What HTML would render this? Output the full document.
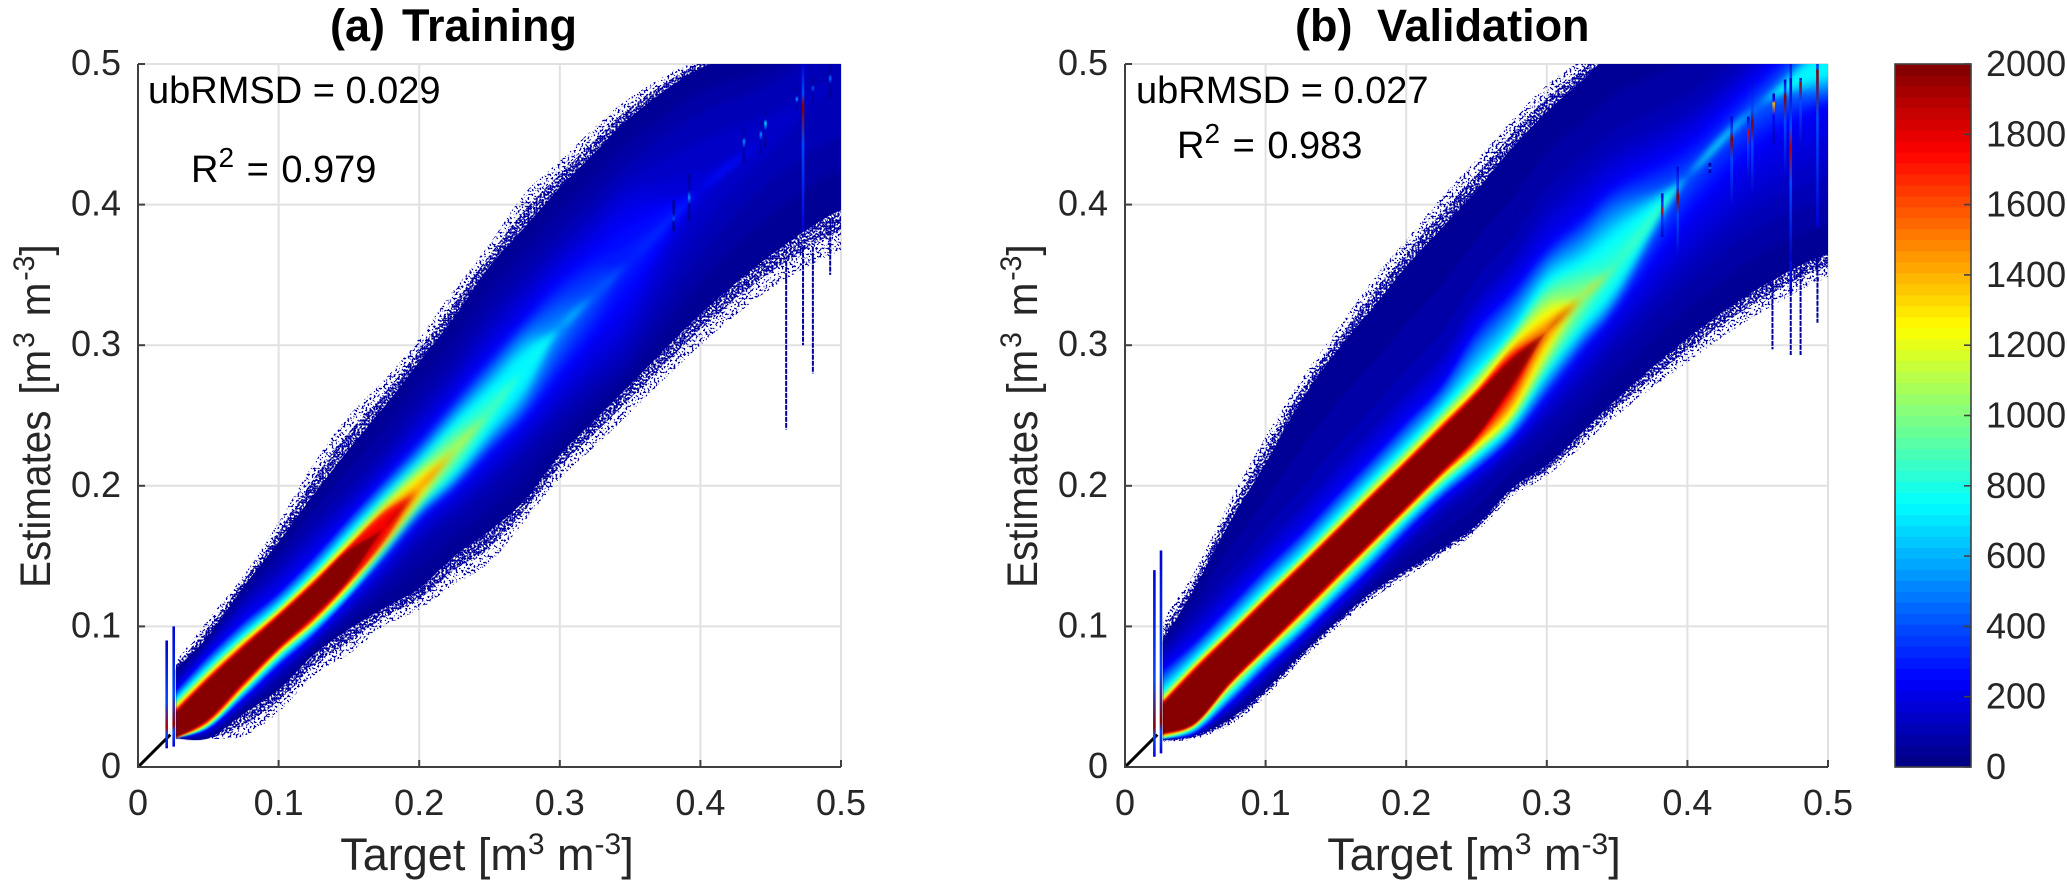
<!DOCTYPE html>
<html lang="en">
<head>
<meta charset="utf-8">
<title>Training and validation density scatter</title>
<style>
html,body{margin:0;padding:0;background:#fff;}
svg{display:block;font-family:"Liberation Sans",sans-serif;}
</style>
</head>
<body>
<svg id="figure" xmlns="http://www.w3.org/2000/svg" width="2067" height="887" viewBox="0 0 2067 887">
  <defs>
    <filter id="speckle-sparse" x="0" y="0" width="100%" height="100%" color-interpolation-filters="sRGB">
      <feTurbulence type="fractalNoise" baseFrequency="0.5" numOctaves="1" seed="7" result="noise"/>
      <feColorMatrix in="noise" type="matrix" values="0 0 0 0 0  0 0 0 0 0  0 0 0 0 0  14 0 0 0 -7.6" result="mask"/>
      <feComposite in="SourceGraphic" in2="mask" operator="in"/>
    </filter>
    <filter id="speckle-dense" x="0" y="0" width="100%" height="100%" color-interpolation-filters="sRGB">
      <feTurbulence type="fractalNoise" baseFrequency="0.5" numOctaves="1" seed="11" result="noise"/>
      <feColorMatrix in="noise" type="matrix" values="0 0 0 0 0  0 0 0 0 0  0 0 0 0 0  14 0 0 0 -6.2" result="mask"/>
      <feComposite in="SourceGraphic" in2="mask" operator="in"/>
    </filter>
    <filter id="soften" x="-5%" y="-5%" width="110%" height="110%" color-interpolation-filters="sRGB">
      <feGaussianBlur stdDeviation="0.9"/>
    </filter>
    <filter id="soften-wide" x="-5%" y="-5%" width="110%" height="110%" color-interpolation-filters="sRGB">
      <feGaussianBlur stdDeviation="3.5"/>
    </filter>
    <clipPath id="clip-train"><rect x="138" y="64" width="703" height="703"/></clipPath>
    <clipPath id="clip-valid"><rect x="1125" y="64" width="703" height="703"/></clipPath>
  </defs>

  <g id="panel-train"></g>
  <g id="panel-valid"></g>
  <g id="colorbar"></g>

  <text y="41" font-size="45" font-weight="bold" fill="#000"><tspan x="330">(a)</tspan><tspan x="402">Training</tspan></text>
  <text y="41" font-size="45" font-weight="bold" fill="#000"><tspan x="1295">(b)</tspan><tspan x="1377">Validation</tspan></text>

  <text x="148" y="103" font-size="38" fill="#000">ubRMSD = 0.029</text>
  <text x="191" y="182" font-size="38" fill="#000" word-spacing="2">R<tspan dy="-15" font-size="28">2</tspan><tspan dy="15"> = 0.979</tspan></text>
  <text x="1136" y="103" font-size="38" fill="#000">ubRMSD = 0.027</text>
  <text x="1177" y="158" font-size="38" fill="#000" word-spacing="2">R<tspan dy="-15" font-size="28">2</tspan><tspan dy="15"> = 0.983</tspan></text>

  <text x="487" y="870" text-anchor="middle" font-size="45" fill="#262626">Target [m<tspan dy="-16" font-size="30">3</tspan><tspan dy="16"> m</tspan><tspan dy="-16" font-size="30">-3</tspan><tspan dy="16">]</tspan></text>
  <text x="1474" y="870" text-anchor="middle" font-size="45" fill="#262626">Target [m<tspan dy="-16" font-size="30">3</tspan><tspan dy="16"> m</tspan><tspan dy="-16" font-size="30">-3</tspan><tspan dy="16">]</tspan></text>
  <text transform="translate(50,588) rotate(-90) scale(0.94,1)" font-size="43" fill="#262626" word-spacing="5">Estimates [m<tspan dy="-16" dx="2" font-size="30">3</tspan><tspan dy="16"> m</tspan><tspan dy="-16" dx="2" font-size="30">-3</tspan><tspan dy="16">]</tspan></text>
  <text transform="translate(1037,588) rotate(-90) scale(0.94,1)" font-size="43" fill="#262626" word-spacing="5">Estimates [m<tspan dy="-16" dx="2" font-size="30">3</tspan><tspan dy="16"> m</tspan><tspan dy="-16" dx="2" font-size="30">-3</tspan><tspan dy="16">]</tspan></text>
</svg>

<script>
// ---- axis data ----
const axisTicks = [0, 0.1, 0.2, 0.3, 0.4, 0.5];
const axisTickLabels = ["0", "0.1", "0.2", "0.3", "0.4", "0.5"];
const colorbarTicks = [0, 200, 400, 600, 800, 1000, 1200, 1400, 1600, 1800, 2000];
const colorbarMax = 2000;
const colorLevelCount = 64;
const oneToOneEnd = 0.023;

// ---- density contours: count levels and the target values they are read at ----
const contourLevels = [40, 120, 250, 750, 1250, 1750, 2000];
const targetStations = [0.027, 0.05, 0.075, 0.1, 0.125, 0.15, 0.175, 0.2, 0.225, 0.25, 0.275, 0.3, 0.325, 0.35, 0.4, 0.45, 0.5];

// ---- (a) Training ----
const trainRidge = [0.0296, 0.0477, 0.0725, 0.096, 0.119, 0.144, 0.17, 0.198, 0.225, 0.252, 0.283, 0.312, 0.336, 0.36, 0.41, 0.45, 0.49];
const trainPeak = [2000, 2000, 2000, 2000, 2000, 2000, 1800, 1450, 1120, 900, 760, 560, 430, 330, 190, 160, 140];
const trainSpeckleUpper = [0.075, 0.105, 0.136, 0.174, 0.216, 0.25, 0.275, 0.305, 0.34, 0.372, 0.408, 0.431, 0.455, 0.476, 0.505, 0.52, 0.53];
const trainSpeckleLower = [0.02, 0.02, 0.022, 0.039, 0.065, 0.08, 0.1, 0.112, 0.13, 0.145, 0.175, 0.205, 0.228, 0.252, 0.3, 0.34, 0.367];
const trainEdgeUpper = [0.07, 0.093, 0.128, 0.16, 0.194, 0.226, 0.256, 0.288, 0.32, 0.356, 0.384, 0.412, 0.437, 0.462, 0.497, 0.51, 0.52];
const trainEdgeLower = [0.0205, 0.0205, 0.038, 0.055, 0.08, 0.098, 0.113, 0.127, 0.15, 0.168, 0.19, 0.222, 0.247, 0.272, 0.322, 0.364, 0.396];
const train120Upper = [0.062, 0.088, 0.118, 0.1425, 0.17, 0.195, 0.222, 0.255, 0.285, 0.32, 0.348, 0.375, 0.4, 0.425, 0.46, 0.4815, 0.52];
const train120Lower = [0.0205, 0.024, 0.043, 0.0642, 0.087, 0.109, 0.133, 0.16, 0.18, 0.2, 0.225, 0.25, 0.272, 0.295, 0.37, 0.425, 0.457];
const train250Upper = [0.055, 0.08, 0.104, 0.1247, 0.15, 0.178, 0.205, 0.232, 0.262, 0.292, 0.32, 0.348, 0.369, 0.39];
const train250Lower = [0.0205, 0.027, 0.048, 0.0714, 0.093, 0.119, 0.147, 0.176, 0.197, 0.222, 0.246, 0.276, 0.305, 0.335];
const train750Upper = [0.048, 0.071, 0.094, 0.115, 0.139, 0.166, 0.192, 0.217, 0.244, 0.268, 0.293];
const train750Lower = [0.0205, 0.029, 0.053, 0.0773, 0.099, 0.124, 0.153, 0.184, 0.208, 0.24, 0.272];
const train1250Upper = [0.043, 0.066, 0.089, 0.1105, 0.134, 0.159, 0.184, 0.206];
const train1250Lower = [0.0205, 0.031, 0.056, 0.0816, 0.103, 0.129, 0.158, 0.191];
const train1750Upper = [0.04, 0.063, 0.086, 0.108, 0.131, 0.156, 0.18];
const train1750Lower = [0.021, 0.033, 0.059, 0.084, 0.106, 0.132, 0.162];
const train2000Upper = [0.038, 0.061, 0.084, 0.106, 0.129, 0.153];
const train2000Lower = [0.021, 0.035, 0.061, 0.086, 0.109, 0.135];
const trainStreakTarget = [0.0204, 0.0254, 0.381, 0.392, 0.431, 0.443, 0.4463, 0.4686, 0.473, 0.48, 0.4923];
const trainStreakLow = [0.0133, 0.0145, 0.381, 0.3886, 0.429, 0.436, 0.441, 0.4668, 0.381, 0.472, 0.476];
const trainStreakHigh = [0.09, 0.1, 0.403, 0.4217, 0.455, 0.46, 0.4668, 0.4834, 0.5, 0.49, 0.5];
const trainStreakCentre = [0.028, 0.03, 0.39, 0.405, 0.445, 0.45, 0.458, 0.475, 0.47, 0.483, 0.49];
const trainStreakPeak = [1900, 2000, 400, 500, 500, 500, 650, 500, 2000, 400, 450];
const trainTailTarget = [0.461, 0.473, 0.48, 0.4923];
const trainTailLow = [0.24, 0.3, 0.28, 0.35];
const trainTailHigh = [0.36, 0.37, 0.37, 0.39];
const trainSoftFrom = 0.17;

// ---- (b) Validation ----
const validRidge = [0.034, 0.05, 0.077, 0.1016, 0.126, 0.151, 0.176, 0.2, 0.225, 0.25, 0.283, 0.31, 0.334, 0.358, 0.42, 0.47, 0.5];
const validPeak = [2000, 2000, 2000, 2000, 2000, 2000, 2000, 2000, 2000, 2000, 2000, 1550, 1080, 870, 430, 450, 900];
const validSpeckleUpper = [0.105, 0.14, 0.19, 0.235, 0.275, 0.31, 0.345, 0.375, 0.405, 0.432, 0.46, 0.485, 0.503, 0.52, 0.53, 0.54, 0.55];
const validSpeckleLower = [0.018, 0.02, 0.03, 0.05, 0.075, 0.098, 0.119, 0.135, 0.15, 0.167, 0.192, 0.207, 0.228, 0.25, 0.288, 0.322, 0.348];
const validEdgeUpper = [0.09, 0.128, 0.175, 0.216, 0.26, 0.295, 0.325, 0.356, 0.383, 0.41, 0.44, 0.466, 0.488, 0.51, 0.53, 0.54, 0.55];
const validEdgeLower = [0.019, 0.0225, 0.0345, 0.055, 0.08, 0.103, 0.124, 0.14, 0.155, 0.172, 0.198, 0.215, 0.238, 0.262, 0.305, 0.34, 0.365];
const valid120Upper = [0.082, 0.107, 0.135, 0.1615, 0.188, 0.217, 0.243, 0.27, 0.297, 0.337, 0.365, 0.403, 0.425, 0.445, 0.47, 0.51, 0.54];
const valid120Lower = [0.02, 0.0225, 0.04, 0.0619, 0.085, 0.108, 0.132, 0.157, 0.18, 0.2, 0.222, 0.247, 0.272, 0.3, 0.35, 0.39, 0.41];
const valid250Upper = [0.07, 0.09, 0.116, 0.1425, 0.167, 0.194, 0.22, 0.2468, 0.273, 0.3133, 0.34, 0.37, 0.392, 0.415, 0.4435, 0.49, 0.53];
const valid250Lower = [0.02, 0.024, 0.045, 0.069, 0.092, 0.116, 0.14, 0.166, 0.19, 0.21, 0.232, 0.263, 0.295, 0.325, 0.389, 0.44, 0.47];
const valid750Upper = [0.054, 0.0773, 0.102, 0.127, 0.151, 0.177, 0.203, 0.228, 0.254, 0.282, 0.31, 0.345, 0.36, 0.38];
const valid750Lower = [0.02, 0.0275, 0.052, 0.0773, 0.1, 0.125, 0.15, 0.1757, 0.199, 0.22, 0.243, 0.28, 0.312, 0.342];
const valid1250Upper = [0.048, 0.0725, 0.0965, 0.1212, 0.1455, 0.17, 0.195, 0.2195, 0.245, 0.27, 0.3, 0.322];
const valid1250Lower = [0.022, 0.03, 0.0585, 0.0827, 0.107, 0.132, 0.157, 0.1816, 0.206, 0.2275, 0.252, 0.297];
const valid1750Upper = [0.046, 0.07, 0.0945, 0.119, 0.143, 0.1677, 0.1925, 0.217, 0.2414, 0.266, 0.292];
const valid1750Lower = [0.0235, 0.031, 0.0595, 0.0845, 0.1092, 0.1343, 0.159, 0.184, 0.2087, 0.2336, 0.268];
const valid2000Upper = [0.044, 0.0676, 0.092, 0.1164, 0.1407, 0.1652, 0.19, 0.2143, 0.2389, 0.2635, 0.289];
const valid2000Lower = [0.024, 0.032, 0.0619, 0.0868, 0.1117, 0.1368, 0.1615, 0.1863, 0.2112, 0.2361, 0.272];
const validStreakTarget = [0.0209, 0.0256, 0.3821, 0.3931, 0.416, 0.4315, 0.4433, 0.4462, 0.4614, 0.4695, 0.4735, 0.4735, 0.4805, 0.4925];
const validStreakLow = [0.0073, 0.0097, 0.377, 0.363, 0.4225, 0.3985, 0.415, 0.408, 0.4436, 0.42, 0.337, 0.36, 0.44, 0.384];
const validStreakHigh = [0.14, 0.154, 0.408, 0.427, 0.4296, 0.4626, 0.4626, 0.4886, 0.479, 0.489, 0.503, 0.49, 0.49, 0.503];
const validStreakCentre = [0.028, 0.032, 0.396, 0.4057, 0.426, 0.447, 0.452, 0.458, 0.472, 0.477, 0.485, 0.44, 0.487, 0.495];
const validStreakPeak = [2000, 2000, 1800, 2000, 550, 2000, 1800, 2000, 1400, 2000, 2000, 1900, 1900, 2000];
const validTailTarget = [0.4605, 0.4735, 0.4805, 0.4925];
const validTailLow = [0.297, 0.293, 0.293, 0.316];
const validTailHigh = [0.35, 0.36, 0.36, 0.37];
const validSoftFrom = 0.285;

// ---- drawing ----
const NS = "http://www.w3.org/2000/svg";
const AXIS_SPAN = 703;
const AXIS_TOP = 64;
const AXIS_BOTTOM = 767;
const SOFT_FEATHER = 0.025;

function make(tag, attrs, parent) {
  const el = document.createElementNS(NS, tag);
  for (const k in attrs) el.setAttribute(k, attrs[k]);
  parent.appendChild(el);
  return el;
}

function jet(value) {
  const idx = Math.max(0, Math.min(colorLevelCount - 1, Math.floor(value / colorbarMax * colorLevelCount)));
  const f = (idx + 0.5) / colorLevelCount * 4;
  const ch = c => Math.round(255 * Math.max(0, Math.min(1, Math.min(f - c + 1.5, -f + c + 1.5))));
  return "rgb(" + ch(3) + "," + ch(2) + "," + ch(1) + ")";
}

function sy(v) { return AXIS_BOTTOM - v / 0.5 * AXIS_SPAN; }

function smoothRun(pts) {
  let d = "";
  for (let i = 0; i < pts.length - 1; i++) {
    const p0 = pts[Math.max(0, i - 1)], p1 = pts[i], p2 = pts[i + 1], p3 = pts[Math.min(pts.length - 1, i + 2)];
    const c1x = p1[0] + (p2[0] - p0[0]) / 6, c1y = p1[1] + (p2[1] - p0[1]) / 6;
    const c2x = p2[0] - (p3[0] - p1[0]) / 6, c2y = p2[1] - (p3[1] - p1[1]) / 6;
    d += "C" + c1x.toFixed(1) + " " + c1y.toFixed(1) + " " + c2x.toFixed(1) + " " + c2y.toFixed(1) + " " + p2[0].toFixed(1) + " " + p2[1].toFixed(1);
  }
  return d;
}

function bandPath(sx, upper, lower) {
  const top = targetStations.map((x, i) => [sx(x), sy(upper[i])]);
  top.push([sx(0.53), sy(upper[upper.length - 1])]);
  const bottom = targetStations.map((x, i) => [sx(x), sy(lower[i])]);
  bottom.push([sx(0.53), sy(lower[lower.length - 1])]);
  bottom.reverse();
  return "M" + top[0][0].toFixed(1) + " " + top[0][1].toFixed(1) + smoothRun(top) +
    "L" + bottom[0][0].toFixed(1) + " " + bottom[0][1].toFixed(1) + smoothRun(bottom) + "Z";
}

function contourAt(value, side, ridge, peak) {
  let k = contourLevels.length - 2;
  while (k > 0 && value < contourLevels[k]) k--;
  const lo = contourLevels[k];
  const hi = contourLevels[k + 1];
  return targetStations.map((_, i) => {
    const a = side[k][i];
    const b = side[k + 1][i];
    const base = a === undefined ? ridge[i] : a;
    if (b !== undefined) return base + (b - base) * (value - lo) / (hi - lo);
    if (value >= peak[i] || peak[i] <= lo) return ridge[i];
    return base + (ridge[i] - base) * (value - lo) / (peak[i] - lo);
  });
}

function drawBands(parent, key, sx, d) {
  for (let i = 0; i < colorLevelCount; i++) {
    const value = (i + 0.5) * colorbarMax / colorLevelCount;
    if (value <= contourLevels[0]) continue;
    const up = contourAt(value, d.upper, d.ridge, d.peak);
    const lowArr = contourAt(value, d.lower, d.ridge, d.peak);
    const band = make("path", { d: bandPath(sx, up, lowArr), fill: jet(value) }, parent);
    
    
  }
}

function drawCore(plot, key, sx, d) {
  const sharpEnd = sx(d.softFrom + SOFT_FEATHER);
  const clip = make("clipPath", { id: key + "-sharp-clip" }, plot);
  make("rect", { x: sx(0), y: AXIS_TOP - 20, width: sharpEnd - sx(0), height: AXIS_SPAN + 40 }, clip);
  const sharpHolder = make("g", { "clip-path": "url(#" + key + "-sharp-clip)" }, plot);
  
  
  const sharp = make("g", { filter: "url(#soften)" }, sharpHolder);
  drawBands(sharp, key, sx, d);

  const fadeId = key + "-soft-fade";
  const fade = make("linearGradient", { id: fadeId, gradientUnits: "userSpaceOnUse", x1: sx(d.softFrom - SOFT_FEATHER), x2: sharpEnd, y1: 0, y2: 0 }, plot);
  make("stop", { offset: 0, "stop-color": "#000" }, fade);
  make("stop", { offset: 1, "stop-color": "#fff" }, fade);
  const mask = make("mask", { id: key + "-soft-mask", maskUnits: "userSpaceOnUse", x: sx(0), y: AXIS_TOP - 20, width: AXIS_SPAN + 60, height: AXIS_SPAN + 40 }, plot);
  make("rect", { x: sx(0), y: AXIS_TOP - 20, width: AXIS_SPAN + 60, height: AXIS_SPAN + 40, fill: "url(#" + fadeId + ")" }, mask);
  const softHolder = make("g", { mask: "url(#" + key + "-soft-mask)" }, plot);
  
  
  const soft = make("g", { filter: "url(#soften-wide)" }, softHolder);
  drawBands(soft, key, sx, d);
}

function drawPanel(root, key, x0, clipId, d) {
  const sx = v => x0 + v / 0.5 * AXIS_SPAN;

  const grid = make("g", {}, root);
  
  
  axisTicks.forEach(t => {
    if (t === 0) return;
    const vl = make("line", { x1: sx(t), x2: sx(t), y1: AXIS_TOP, y2: AXIS_BOTTOM, stroke: "#e1e1e1", "stroke-width": 2 }, grid);
    
    
    const hl = make("line", { x1: x0, x2: x0 + AXIS_SPAN, y1: sy(t), y2: sy(t), stroke: "#e1e1e1", "stroke-width": 2 }, grid);
    
    
  });

  const plot = make("g", { "clip-path": "url(#" + clipId + ")" }, root);
  
  

  const refLine = make("line", { x1: sx(0), y1: sy(0), x2: sx(oneToOneEnd), y2: sy(oneToOneEnd), stroke: "#000", "stroke-width": 3 }, plot);
  
  

  const fringeOuter = make("path", { d: bandPath(sx, d.speckleUpper, d.speckleLower), fill: "#00009a", filter: "url(#speckle-sparse)" }, plot);
  
  
  const midUpper = d.speckleUpper.map((v, i) => (v + d.upper[0][i]) / 2);
  const midLower = d.speckleLower.map((v, i) => (v + d.lower[0][i]) / 2);
  const fringeInner = make("path", { d: bandPath(sx, midUpper, midLower), fill: "#00009a", filter: "url(#speckle-dense)" }, plot);
  
  

  d.tailTarget.forEach((x, i) => {
    const tail = make("line", { x1: sx(x), x2: sx(x), y1: sy(d.tailHigh[i]), y2: sy(d.tailLow[i]), stroke: "#00009a", "stroke-width": 2, "stroke-dasharray": "5 1" }, plot);
    
    
  });

  const edge = make("path", { d: bandPath(sx, d.upper[0], d.lower[0]), fill: jet(contourLevels[0]) }, plot);
  
  

  drawCore(plot, key, sx, d);

  d.streakTarget.forEach((x, i) => {
    const id = key + "-streak-" + i;
    const lo = d.streakLow[i], hi = d.streakHigh[i], c = d.streakCentre[i], p = d.streakPeak[i];
    const gradient = make("linearGradient", { id: id, gradientUnits: "userSpaceOnUse", x1: 0, x2: 0, y1: sy(hi), y2: sy(lo) }, plot);
    const stopsAt = [hi, c + (hi - c) * 0.3, c, c - (c - lo) * 0.3, lo];
    const strength = [0.08, 0.2, 1, 0.2, 0.08];
    stopsAt.forEach((v, j) => {
      make("stop", { offset: ((hi - v) / (hi - lo)).toFixed(4), "stop-color": jet(p * strength[j]) }, gradient);
    });
    const streak = make("rect", { x: sx(x) - 1.3, y: sy(hi), width: 2.6, height: sy(lo) - sy(hi), fill: "url(#" + id + ")" }, plot);
    
    
  });

  const axes = make("g", {}, root);
  
  
  const yAxis = make("line", { x1: x0, x2: x0, y1: AXIS_TOP, y2: AXIS_BOTTOM + 1, stroke: "#404040", "stroke-width": 2 }, axes);
  
  
  const xAxis = make("line", { x1: x0, x2: x0 + AXIS_SPAN, y1: AXIS_BOTTOM, y2: AXIS_BOTTOM, stroke: "#404040", "stroke-width": 2 }, axes);
  
  

  axisTicks.forEach((t, i) => {
    const xt = make("line", { x1: sx(t), x2: sx(t), y1: AXIS_BOTTOM, y2: AXIS_BOTTOM - 7, stroke: "#404040", "stroke-width": 2 }, axes);
    
    
    const yt = make("line", { x1: x0, x2: x0 + 7, y1: sy(t), y2: sy(t), stroke: "#404040", "stroke-width": 2 }, axes);
    
    

    const xLabel = make("text", { x: sx(t), y: 815, "text-anchor": "middle", "font-size": 36, fill: "#262626" }, axes);
    xLabel.textContent = axisTickLabels[i];
    
    
    const yLabel = make("text", { x: x0 - 17, y: sy(t) + 11, "text-anchor": "end", "font-size": 36, fill: "#262626" }, axes);
    yLabel.textContent = axisTickLabels[i];
    
    
  });
}

drawPanel(document.getElementById("panel-train"), "training", 138, "clip-train", {
  ridge: trainRidge,
  peak: trainPeak,
  softFrom: trainSoftFrom,
  speckleUpper: trainSpeckleUpper,
  speckleLower: trainSpeckleLower,
  upper: [trainEdgeUpper, train120Upper, train250Upper, train750Upper, train1250Upper, train1750Upper, train2000Upper],
  lower: [trainEdgeLower, train120Lower, train250Lower, train750Lower, train1250Lower, train1750Lower, train2000Lower],
  streakTarget: trainStreakTarget,
  streakLow: trainStreakLow,
  streakHigh: trainStreakHigh,
  streakCentre: trainStreakCentre,
  streakPeak: trainStreakPeak,
  tailTarget: trainTailTarget,
  tailLow: trainTailLow,
  tailHigh: trainTailHigh
});

drawPanel(document.getElementById("panel-valid"), "validation", 1125, "clip-valid", {
  ridge: validRidge,
  peak: validPeak,
  softFrom: validSoftFrom,
  speckleUpper: validSpeckleUpper,
  speckleLower: validSpeckleLower,
  upper: [validEdgeUpper, valid120Upper, valid250Upper, valid750Upper, valid1250Upper, valid1750Upper, valid2000Upper],
  lower: [validEdgeLower, valid120Lower, valid250Lower, valid750Lower, valid1250Lower, valid1750Lower, valid2000Lower],
  streakTarget: validStreakTarget,
  streakLow: validStreakLow,
  streakHigh: validStreakHigh,
  streakCentre: validStreakCentre,
  streakPeak: validStreakPeak,
  tailTarget: validTailTarget,
  tailLow: validTailLow,
  tailHigh: validTailHigh
});

// ---- colorbar ----
(function () {
  const root = document.getElementById("colorbar");
  const left = 1895, right = 1971;
  const cy = v => AXIS_BOTTOM - v / colorbarMax * AXIS_SPAN;
  for (let i = 0; i < colorLevelCount; i++) {
    const v0 = i * colorbarMax / colorLevelCount;
    const v1 = (i + 1) * colorbarMax / colorLevelCount;
    const seg = make("rect", { x: left, y: cy(v1), width: right - left, height: cy(v0) - cy(v1) + 0.6, fill: jet((v0 + v1) / 2) }, root);
    
    
  }
  const frame = make("rect", { x: left, y: AXIS_TOP, width: right - left, height: AXIS_SPAN, fill: "none", stroke: "#404040", "stroke-width": 1.6 }, root);
  
  
  colorbarTicks.forEach(t => {
    const tick = make("line", { x1: right, x2: right - 7, y1: cy(t), y2: cy(t), stroke: "#404040", "stroke-width": 1.6 }, root);
    
    
    const label = make("text", { x: 1986, y: cy(t) + 12, "font-size": 36, fill: "#262626" }, root);
    label.textContent = String(t);
    
    
  });
})();
</script>
</body>
</html>
